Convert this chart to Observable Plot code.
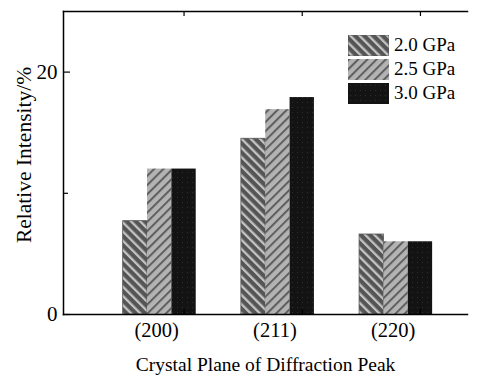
<!DOCTYPE html>
<html><head><meta charset="utf-8">
<script src="https://cdn.jsdelivr.net/npm/d3@7"></script>
<script src="https://cdn.jsdelivr.net/npm/@observablehq/plot@0.6"></script>
<style>
body{margin:0;background:#fff}
#chart{position:relative;width:478px;height:385px}
#legend{position:absolute;left:348px;top:33px;font-family:"Liberation Serif","Times New Roman",serif;font-size:19px;color:#000}
.lg{display:flex;align-items:center;height:24px}
.lg svg{display:block;margin-right:5px}
</style></head><body><div id="chart"></div>
<script>
const categories = ["(200)", "(211)", "(220)"];
const series = ["2.0 GPa", "2.5 GPa", "3.0 GPa"];
const v20 = [7.7, 14.5, 6.6];
const v25 = [12.0, 16.9, 6.0];
const v30 = [12.0, 17.9, 6.0];
const yTicks = [0, 20];
const yMinor = [10];
const xTitle = "Crystal Plane of Diffraction Peak";
const yTitle = "Relative Intensity/%";
const patterns = ["p20", "p25", "p30"];

const font = '"Liberation Serif","Times New Roman",serif';
const W = 478, H = 385, mL = 63, mR = 11, mT = 11, mB = 71;
const frameW = W - mL - mR, frameH = H - mT - mB;
const xRange = [100.1, 454.7], pIn = 0.382, pOut = 0.191;
const step = (xRange[1] - xRange[0]) / (categories.length - pIn + 2 * pOut);
const bw = step * (1 - pIn), third = bw / 3;

const rows = (vals) => categories.map((c, i) => ({category: c, value: vals[i]}));
const d20 = rows(v20), d25 = rows(v25), d30 = rows(v30);

const chart = Plot.plot({
  width: W, height: H,
  marginLeft: mL, marginRight: mR, marginTop: mT, marginBottom: mB,
  style: {fontFamily: font, background: "#fff", color: "#000"},
  x: {type: "band", domain: categories, range: xRange, paddingInner: pIn, paddingOuter: pOut, round: false, align: 0.5},
  y: {domain: [0, 25], range: [H - mB, mT]},
  marks: [
    Plot.barY(d20, {x: "category", y: "value", fill: "url(#p20)", stroke: "#555", strokeWidth: 0.8, insetLeft: 0, insetRight: 2 * third}),
    Plot.barY(d25, {x: "category", y: "value", fill: "url(#p25)", insetLeft: third, insetRight: third}),
    Plot.barY(d30, {x: "category", y: "value", fill: "url(#p30)", insetLeft: 2 * third, insetRight: 0}),
    Plot.frame({anchor: "left", strokeWidth: 1.5}),
    Plot.frame({anchor: "top", strokeWidth: 1.5}),
    Plot.frame({anchor: "bottom", strokeWidth: 1.5}),
    Plot.tickY(yTicks, {y: d => d, insetRight: frameW - 7, strokeWidth: 1.2}),
    Plot.tickY(yMinor, {y: d => d, insetRight: frameW - 5, strokeWidth: 1.2}),
    Plot.tickX(categories, {x: d => d, dx: third, insetTop: frameH - 5, strokeWidth: 1.2}),
    Plot.tickX(categories, {x: d => d, dx: third, insetBottom: frameH - 5, strokeWidth: 1.2}),
    Plot.axisY(yTicks, {tickSize: 0, tickPadding: 6, fontSize: 21, label: null}),
    Plot.axisX({tickSize: 0, tickPadding: 8, fontSize: 20.5, label: null, dx: -3}),
    Plot.text([yTitle], {frameAnchor: "left", textAnchor: "middle", dx: -39, dy: -8, rotate: -90, fontSize: 21.5, text: d => d}),
    Plot.text([xTitle], {frameAnchor: "bottom", textAnchor: "middle", dy: 56, fontSize: 19.5, text: d => d})
  ]
});

const defs = `
<defs>
 <pattern id="p20" patternUnits="userSpaceOnUse" width="6.5" height="6.5" patternTransform="rotate(-45)">
  <rect width="6.5" height="6.5" fill="#555"/>
  <rect x="0" width="2.3" height="6.5" fill="#c4c4c4"/>
 </pattern>
 <pattern id="p25" patternUnits="userSpaceOnUse" width="6.5" height="6.5" patternTransform="rotate(45)">
  <rect width="6.5" height="6.5" fill="#b3b3b3"/>
  <rect x="0" width="2" height="6.5" fill="#5e5e5e"/>
 </pattern>
 <pattern id="p30" patternUnits="userSpaceOnUse" width="5" height="5">
  <rect width="5" height="5" fill="#131313"/>
  <rect x="2" y="2" width="1" height="1" fill="#2e2e2e"/>
 </pattern>
</defs>`;
chart.insertAdjacentHTML("afterbegin", defs);
document.getElementById("chart").appendChild(chart);

const legend = document.createElement("div");
legend.id = "legend";
series.forEach((s, i) => {
  const row = document.createElement("div");
  row.className = "lg";
  row.innerHTML = `<svg width="41" height="21"><rect width="41" height="21" fill="url(#${patterns[i]})"${i === 0 ? ' stroke="#555" stroke-width="0.8"' : ''}/></svg><span>${s}</span>`;
  legend.appendChild(row);
});
document.getElementById("chart").appendChild(legend);
</script>
</body></html>
